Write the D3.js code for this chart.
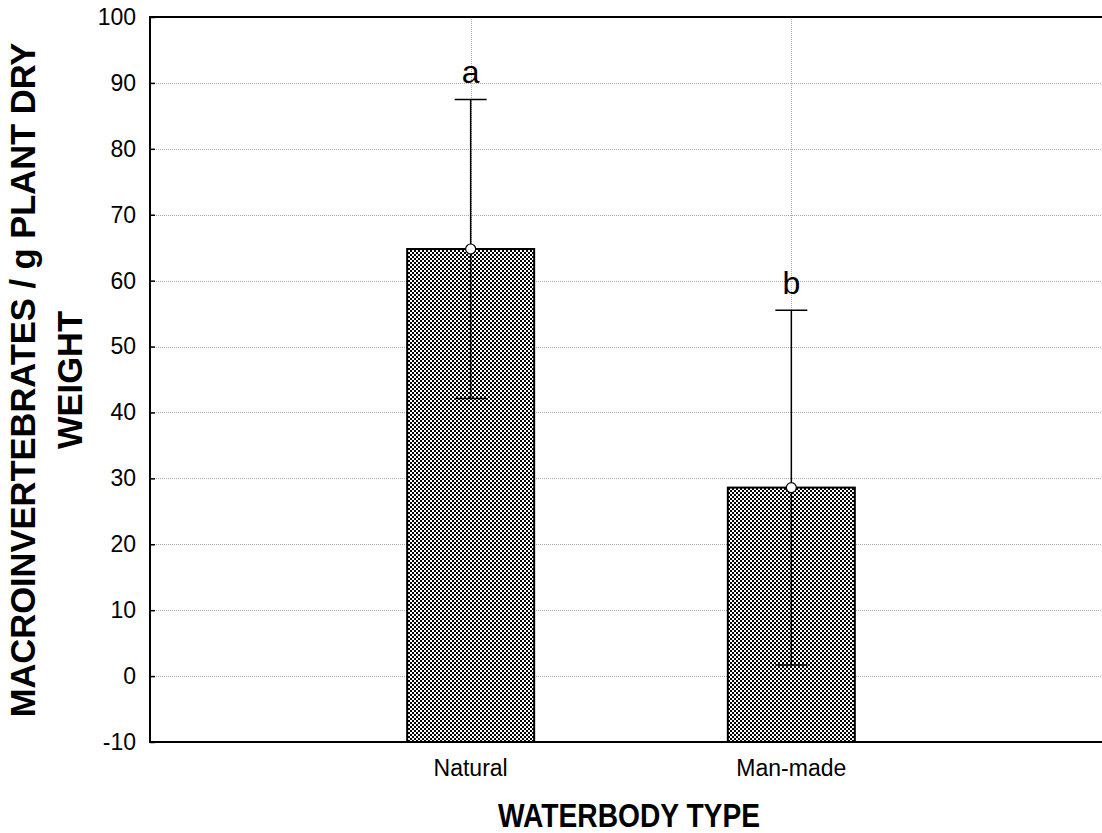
<!DOCTYPE html>
<html>
<head>
<meta charset="utf-8">
<script src="https://cdn.jsdelivr.net/npm/d3@7"></script>
<style>
  html, body { margin: 0; padding: 0; background: #fff; }
  svg { display: block; font-family: "Liberation Sans", Arial, sans-serif; }
</style>
</head>
<body>
<svg id="chart" width="1102" height="833"></svg>
<script>
// Waterbody types and their mean macroinvertebrate density (± error)
const categories = ["Natural", "Man-made"];
const means = [64.8, 28.6];
const errors = [22.7, 26.9];
const letters = ["a", "b"];
const yTicks = [-10, 0, 10, 20, 30, 40, 50, 60, 70, 80, 90, 100];

const svg = d3.select("#chart");
const margin = { left: 150, top: 17, right: -10, bottom: 91 };
const W = 1102, H = 833;
const x0 = margin.left, x1 = W - margin.right;
const y0 = margin.top, y1 = H - margin.bottom;

// Categories sit at positions 1 and 2 on a 0..3 axis
const x = d3.scaleLinear().domain([0, 3]).range([x0, x1]);
const y = d3.scaleLinear().domain([-10, 100]).range([y1, y0]);

// Checkerboard fill
const defs = svg.append("defs");
const pat = defs.append("pattern")
  .attr("id", "checker")
  .attr("patternUnits", "userSpaceOnUse")
  .attr("width", 4).attr("height", 4);
pat.append("rect").attr("width", 4).attr("height", 4).attr("fill", "#fff");
pat.append("rect").attr("x", 0).attr("y", 0).attr("width", 2).attr("height", 2).attr("fill", "#000");
pat.append("rect").attr("x", 2).attr("y", 2).attr("width", 2).attr("height", 2).attr("fill", "#000");

defs.append("clipPath").attr("id", "plotClip")
  .append("rect").attr("x", x0).attr("y", y0).attr("width", x1 - x0).attr("height", y1 - y0);

// Grid lines
const grid = svg.append("g").attr("clip-path", "url(#plotClip)");
grid.selectAll("line.h").data(yTicks.filter(d => d > -10 && d < 100)).enter()
  .append("line").attr("class", "h")
  .attr("x1", x0).attr("x2", x1)
  .attr("y1", d => Math.round(y(d)) + 0.5).attr("y2", d => Math.round(y(d)) + 0.5)
  .attr("stroke", "#aaa").attr("stroke-width", 1).attr("stroke-dasharray", "1,1");
grid.selectAll("line.v").data(categories.map((c, i) => i + 1)).enter()
  .append("line").attr("class", "v")
  .attr("x1", d => Math.round(x(d)) + 0.5).attr("x2", d => Math.round(x(d)) + 0.5)
  .attr("y1", y0).attr("y2", y1)
  .attr("stroke", "#aaa").attr("stroke-width", 1).attr("stroke-dasharray", "1,1");

// Bars
const barW = 127;
const bars = svg.append("g");
categories.forEach((c, i) => {
  const cx = x(i + 1);
  bars.append("rect")
    .attr("x", cx - barW / 2).attr("y", y(means[i]))
    .attr("width", barW).attr("height", y(-10) - y(means[i]))
    .attr("fill", "url(#checker)")
    .attr("stroke", "#000").attr("stroke-width", 2);
});

// Error bars, mean markers and significance letters
const capW = 32;
categories.forEach((c, i) => {
  const cx = x(i + 1);
  const hi = means[i] + errors[i], lo = means[i] - errors[i];
  const g = svg.append("g").attr("stroke", "#000").attr("stroke-width", 1.5);
  g.append("line").attr("x1", cx).attr("x2", cx).attr("y1", y(hi)).attr("y2", y(lo));
  g.append("line").attr("x1", cx - capW / 2).attr("x2", cx + capW / 2).attr("y1", y(hi)).attr("y2", y(hi));
  g.append("line").attr("x1", cx - capW / 2).attr("x2", cx + capW / 2).attr("y1", y(lo)).attr("y2", y(lo));
  g.append("circle").attr("cx", cx).attr("cy", y(means[i])).attr("r", 5)
    .attr("fill", "#fff").attr("stroke-width", 1.2);
  svg.append("text").attr("x", cx).attr("y", y(hi) - 16)
    .attr("text-anchor", "middle").attr("font-size", 32).text(letters[i]);
});

// Axis frame
svg.append("rect").attr("x", x0).attr("y", y0).attr("width", x1 - x0).attr("height", y1 - y0)
  .attr("fill", "none").attr("stroke", "#000").attr("stroke-width", 2);

// Y axis ticks and labels
const yAxis = d3.axisLeft(y).tickValues(yTicks).tickFormat(d => String(d))
  .tickSizeInner(-5).tickSizeOuter(0).tickPadding(14);
const ya = svg.append("g").attr("transform", `translate(${x0},0)`).call(yAxis);
ya.select(".domain").remove();
ya.selectAll(".tick line").attr("stroke", "#000").attr("stroke-width", 1.5);
ya.selectAll(".tick text").attr("font-size", 23).attr("fill", "#000")
  .attr("font-family", "Liberation Sans, Arial, sans-serif");

// X category labels
svg.selectAll("text.cat").data(categories).enter().append("text")
  .attr("class", "cat")
  .attr("x", (d, i) => x(i + 1)).attr("y", y1 + 34)
  .attr("text-anchor", "middle").attr("font-size", 23).text(d => d);

// Axis titles
svg.append("text").attr("x", 629).attr("y", 827)
  .attr("text-anchor", "middle").attr("font-size", 33).attr("font-weight", "bold")
  .attr("textLength", 262).attr("lengthAdjust", "spacingAndGlyphs")
  .text("WATERBODY TYPE");
const yt = svg.append("text").attr("transform", "translate(0,380) rotate(-90)")
  .attr("text-anchor", "middle").attr("font-size", 34.5).attr("font-weight", "bold");
yt.append("tspan").attr("x", 0).attr("y", 35).text("MACROINVERTEBRATES / g PLANT DRY");
yt.append("tspan").attr("x", 0).attr("y", 82).text("WEIGHT");
</script>
</body>
</html>
